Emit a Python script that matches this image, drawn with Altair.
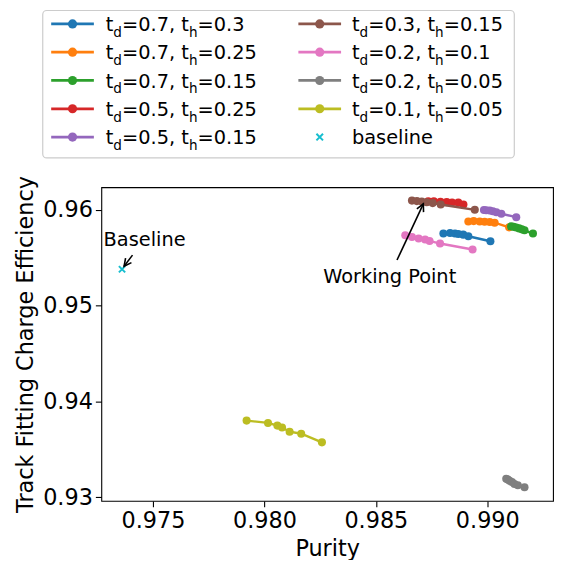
import math
import altair as alt
import pandas as pd

# ---------------- data ----------------
series_td = ["0.7", "0.7", "0.7", "0.5", "0.5", "0.3", "0.2", "0.2", "0.1"]
series_th = ["0.3", "0.25", "0.15", "0.25", "0.15", "0.15", "0.1", "0.05", "0.05"]
series_colors = ["#1f77b4", "#ff7f0e", "#2ca02c", "#d62728", "#9467bd",
                 "#8c564b", "#e377c2", "#7f7f7f", "#bcbd22"]

purity = [
    [0.98803, 0.98833, 0.98855, 0.98870, 0.98892, 0.98915, 0.99014],
    [0.98915, 0.98939, 0.98966, 0.98988, 0.99011, 0.99033, 0.99098],
    [0.99107, 0.99118, 0.99130, 0.99143, 0.99155, 0.99167, 0.99205],
    [0.98735, 0.98760, 0.98790, 0.98818, 0.98842, 0.98870, 0.98893],
    [0.98985, 0.98995, 0.99011, 0.99025, 0.99041, 0.99063, 0.99130],
    [0.98662, 0.98684, 0.98706, 0.98728, 0.98755, 0.98791, 0.98944],
    [0.98632, 0.98662, 0.98692, 0.98721, 0.98741, 0.98788, 0.98934],
    [0.99085, 0.99092, 0.99100, 0.99111, 0.99122, 0.99137, 0.99167],
    [0.97920, 0.98016, 0.98058, 0.98079, 0.98113, 0.98165, 0.98258],
]
efficiency = [
    [0.95752, 0.95758, 0.95752, 0.95748, 0.95741, 0.95724, 0.95672],
    [0.95879, 0.95882, 0.95879, 0.95876, 0.95872, 0.95866, 0.95817],
    [0.95827, 0.95822, 0.95815, 0.95806, 0.95796, 0.95786, 0.95752],
    [0.96090, 0.96088, 0.96085, 0.96080, 0.96076, 0.96075, 0.96055],
    [0.95998, 0.95996, 0.95993, 0.95985, 0.95975, 0.95959, 0.95923],
    [0.96096, 0.96091, 0.96086, 0.96079, 0.96070, 0.96055, 0.96000],
    [0.95734, 0.95717, 0.95700, 0.95690, 0.95675, 0.95648, 0.95586],
    [0.93193, 0.93185, 0.93173, 0.93158, 0.93139, 0.93125, 0.93104],
    [0.93800, 0.93776, 0.93748, 0.93728, 0.93684, 0.93663, 0.93573],
]
baseline_purity = [0.97361]
baseline_eff = [0.95380]
baseline_color = "#17becf"

x_ticks = [0.975, 0.980, 0.985, 0.990]
y_ticks = [0.93, 0.94, 0.95, 0.96]

# annotations: text position and arrow (tail -> tip)
ann_text = ["Working Point", "Baseline"]
ann_tx = [0.98562, 0.97462]
ann_ty = [0.95238, 0.95620]
arrow_x0 = [0.98595, 0.97408]
arrow_y0 = [0.95476, 0.95527]
arrow_x1 = [0.98713, 0.97370]
arrow_y1 = [0.96062, 0.95411]

# ---------------- layout / style ----------------
W, H = 455, 316
XDOM = [0.97268, 0.99295]
YDOM = [0.92962, 0.96236]
FONT = "DejaVu Sans"
TICK_FS = 22.5
ANN_FS = 19.5
LEG_FS = 19.5
SUB_FS = LEG_FS * 0.7

labels = [f"t_d={a}, t_h={b}" for a, b in zip(series_td, series_th)]

rows = []
for i, lab in enumerate(labels):
    for j, (px, py) in enumerate(zip(purity[i], efficiency[i])):
        rows.append({"series": lab, "purity": px, "eff": py, "order": j})
df = pd.DataFrame(rows)

color_scale = alt.Scale(domain=labels, range=series_colors)

xs = alt.Scale(domain=XDOM, nice=False, zero=False)
ys = alt.Scale(domain=YDOM, nice=False, zero=False)
xaxis = alt.Axis(values=x_ticks, format=".3f", title="Purity")
yaxis = alt.Axis(values=y_ticks, format=".2f", title="Track Fitting Charge Efficiency")


def X(f):
    return alt.X(f, type="quantitative", scale=xs, axis=xaxis)


def Y(f):
    return alt.Y(f, type="quantitative", scale=ys, axis=yaxis)


main_layers = []
for i, lab in enumerate(labels):
    sub = df[df.series == lab]
    base = alt.Chart(sub)
    main_layers.append(base.mark_line(strokeWidth=2.4).encode(
        x=X("purity"), y=Y("eff"),
        order="order:Q",
        color=alt.Color("series:N", scale=color_scale, legend=None)))
    main_layers.append(base.mark_circle(size=66, opacity=1).encode(
        x=X("purity"), y=Y("eff"),
        color=alt.Color("series:N", scale=color_scale, legend=None)))

XSHAPE = "M-1,-1L1,1M-1,1L1,-1"
bdf = pd.DataFrame({"purity": baseline_purity, "eff": baseline_eff})
main_layers.append(alt.Chart(bdf).mark_point(
    shape=XSHAPE, size=40, filled=False, strokeWidth=2, color=baseline_color, opacity=1
).encode(x=X("purity"), y=Y("eff")))


def to_px(xv, yv):
    px = (xv - XDOM[0]) / (XDOM[1] - XDOM[0]) * W
    py = (YDOM[1] - yv) / (YDOM[1] - YDOM[0]) * H
    return px, py


adf = pd.DataFrame({"x0": arrow_x0, "y0": arrow_y0, "x1": arrow_x1, "y1": arrow_y1})
angles = []
for a, b, c, d in zip(arrow_x0, arrow_y0, arrow_x1, arrow_y1):
    p0 = to_px(a, b)
    p1 = to_px(c, d)
    ang = math.degrees(math.atan2(p1[0] - p0[0], -(p1[1] - p0[1])))
    angles.append(ang % 360)
adf["angle"] = angles
main_layers.append(alt.Chart(adf).mark_rule(color="black", strokeWidth=1.6).encode(
    x=X("x0"), y=Y("y0"), x2="x1", y2="y1"))
main_layers.append(alt.Chart(adf).mark_point(
    shape="M-0.5,1L0,0L0.5,1", size=220, filled=False, strokeWidth=1.6,
    color="black", opacity=1
).encode(x=X("x1"), y=Y("y1"),
         angle=alt.Angle("angle:Q", scale=None)))

tdf = pd.DataFrame({"t": ann_text, "x": ann_tx, "y": ann_ty})
main_layers.append(alt.Chart(tdf).mark_text(
    fontSize=ANN_FS, font=FONT, align="center", baseline="alphabetic", color="black"
).encode(x=X("x"), y=Y("y"), text="t:N"))

main = alt.layer(*main_layers)

# ---------------- legend (pixel layout relative to the plot origin) ----------------
ADV = {"t": 0.392, "d": 0.635, "h": 0.634, "=": 0.838, ".": 0.318, ",": 0.318,
       " ": 0.318, "b": 0.635, "a": 0.613, "s": 0.521, "e": 0.615, "l": 0.278,
       "i": 0.278, "n": 0.634}
for c in "0123456789":
    ADV[c] = 0.636


def width(s, fs):
    return sum(ADV[c] for c in s) * fs


row_y = [-164.5 + 28.5 * k for k in range(5)]
col_marker = [-29.0, 220.0]
col_text = [4.5, 252.5]
LINE_HALF = 21.5
TXT_SHIFT = 7.1

leg_items = []
frag_main = []
frag_sub = []
for i, lab in enumerate(labels):
    col, r = divmod(i, 5)
    ry = row_y[r]
    leg_items.append({"series": lab, "lx": col_marker[col], "lx0": col_marker[col] - LINE_HALF,
                      "lx1": col_marker[col] + LINE_HALF, "ly": ry})
    cur = col_text[col]
    pieces = [("t", False), ("d", True), (f"={series_td[i]}, t", False), ("h", True),
              (f"={series_th[i]}", False)]
    for s, is_sub in pieces:
        fs = SUB_FS if is_sub else LEG_FS
        rec = {"s": s, "lx": cur, "ly": ry + TXT_SHIFT}
        (frag_sub if is_sub else frag_main).append(rec)
        cur += width(s, fs)
frag_main.append({"s": "baseline", "lx": col_text[1], "ly": row_y[4] + TXT_SHIFT})
leg_df = pd.DataFrame(leg_items)
fm_df = pd.DataFrame(frag_main)
fs_df = pd.DataFrame(frag_sub)
box_df = pd.DataFrame({"lx0": [-59.0], "lx1": [416.0], "ly0": [-178.0], "ly1": [-29.5]})
bl_df = pd.DataFrame({"lx": [col_marker[1]], "ly": [row_y[4]]})

lxs = alt.Scale(domain=[0, W], range=[0, W], nice=False, zero=False)
lys = alt.Scale(domain=[0, H], range=[0, H], nice=False, zero=False)


def LX(f):
    return alt.X(f, type="quantitative", scale=lxs, axis=None)


def LY(f):
    return alt.Y(f, type="quantitative", scale=lys, axis=None)


legend = alt.layer(
    alt.Chart(box_df).mark_rect(fill="white", fillOpacity=0.8, stroke="#cccccc",
                                strokeWidth=1.2, cornerRadius=4).encode(
        x=LX("lx0"), x2="lx1", y=LY("ly0"), y2="ly1"),
    alt.Chart(leg_df).mark_rule(strokeWidth=2.8).encode(
        x=LX("lx0"), x2="lx1", y=LY("ly"),
        color=alt.Color("series:N", scale=color_scale, legend=None)),
    alt.Chart(leg_df).mark_circle(size=85, opacity=1).encode(
        x=LX("lx"), y=LY("ly"),
        color=alt.Color("series:N", scale=color_scale, legend=None)),
    alt.Chart(bl_df).mark_point(shape=XSHAPE, size=44, filled=False, strokeWidth=2,
                                color=baseline_color, opacity=1).encode(
        x=LX("lx"), y=LY("ly")),
    alt.Chart(fm_df).mark_text(fontSize=LEG_FS, font=FONT, align="left",
                               baseline="alphabetic", color="black").encode(
        x=LX("lx"), y=LY("ly"), text="s:N"),
    alt.Chart(fs_df).mark_text(fontSize=SUB_FS, font=FONT, align="left",
                               baseline="alphabetic", dy=6, color="black").encode(
        x=LX("lx"), y=LY("ly"), text="s:N"),
)

chart = alt.layer(main, legend).resolve_scale(x="independent", y="independent").properties(
    width=W, height=H,
    autosize=alt.AutoSizeParams(type="none"),
    padding={"left": 94, "top": 178.5, "right": 3, "bottom": 57},
).configure(font=FONT).configure_view(
    stroke="black", strokeWidth=1.1
).configure_axis(
    labelFont=FONT, titleFont=FONT, labelFontSize=TICK_FS, titleFontSize=TICK_FS,
    labelColor="black", titleColor="black", tickColor="black", tickSize=6,
    tickWidth=1.1, domain=False, grid=False, titleFontWeight="normal",
    labelPadding=3, titlePadding=5,
)

chart.save("out.html", embed_options={"renderer": "svg", "actions": False})
